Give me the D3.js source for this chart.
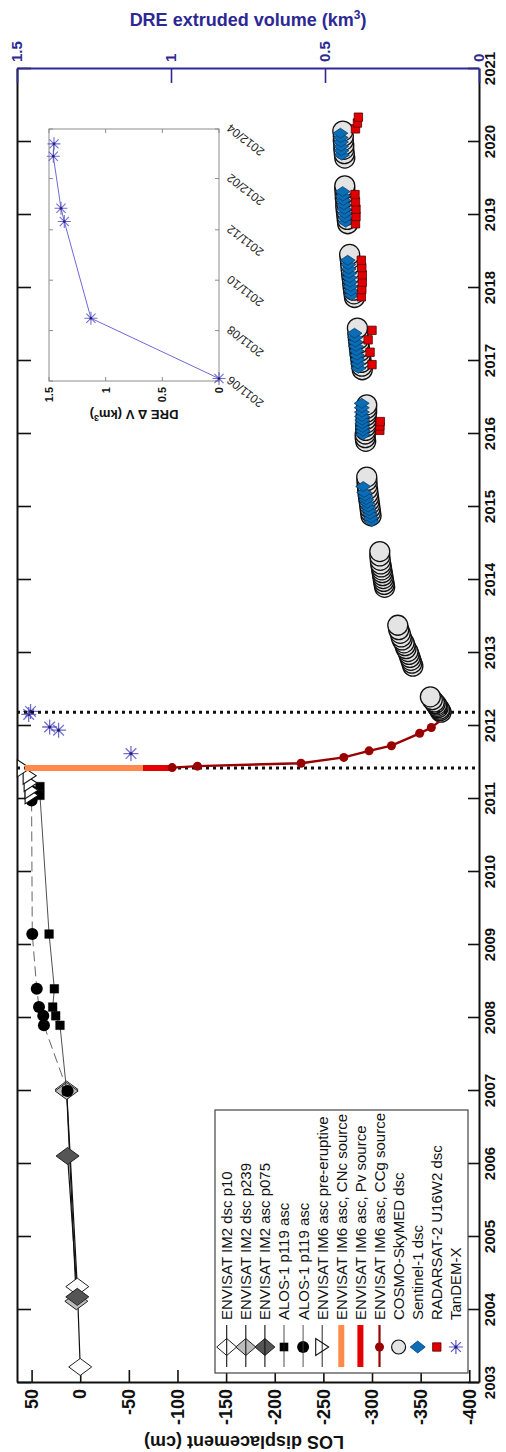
<!DOCTYPE html>
<html>
<head>
<meta charset="utf-8">
<script src="https://cdn.jsdelivr.net/npm/d3@7/dist/d3.min.js"></script>
<style>
  html, body { margin: 0; padding: 0; background: #fff; }
  svg { display: block; font-family: "Liberation Sans", Arial, Helvetica, sans-serif; }
</style>
</head>
<body>
<svg id="chart" width="506" height="1452"></svg>
<script>
// ---------------- data ----------------
const yearTicks = [2003, 2004, 2005, 2006, 2007, 2008, 2009, 2010, 2011, 2012,
                   2013, 2014, 2015, 2016, 2017, 2018, 2019, 2020, 2021];
const losTicks = [50, 0, -50, -100, -150, -200, -250, -300, -350, -400];
const dreTicks = [0, 0.5, 1, 1.5];
const insetMonthTicks = ["2011-06-01", "2011-08-01", "2011-10-01", "2011-12-01", "2012-02-01", "2012-04-01"];
const insetMonthLabels = ["2011/06", "2011/08", "2011/10", "2011/12", "2012/02", "2012/04"];

const legendLabels = [
  "ENVISAT IM2 dsc p10", "ENVISAT IM2 dsc p239", "ENVISAT IM2 asc p075",
  "ALOS-1 p119 asc", "ALOS-1 p119 asc", "ENVISAT IM6 asc pre-eruptive",
  "ENVISAT IM6 asc, CNc source", "ENVISAT IM6 asc, Pv source", "ENVISAT IM6 asc, CCg source",
  "COSMO-SkyMED dsc", "Sentinel-1 dsc", "RADARSAT-2 U16W2 dsc", "TanDEM-X"
];

// [decimal year, LOS displacement (cm)]
const envisatP10 = [[2003.22, 0], [2004.32, 3], [2007.02, 14]];
const envisatP239 = [[2004.12, 4], [2007.0, 14]];
const envisatP075 = [[2004.18, 3], [2006.11, 13]];
const alosSquares = [[2007.0, 14], [2007.9, 20.8], [2008.03, 25.2], [2008.15, 28.3], [2008.4, 26.6],
                     [2009.15, 32], [2011.05, 41.4], [2011.17, 41.4]];
const alosCircles = [[2007.0, 13], [2007.9, 37.3], [2008.03, 38], [2008.15, 42.4], [2008.4, 44.7],
                     [2009.15, 49.3], [2010.98, 50], [2011.1, 49]];
const im6PreEruptive = [[2011.05, 50], [2011.12, 50], [2011.22, 51], [2011.32, 52], [2011.42, 58]];
const cncSource = [[2011.425, 57], [2011.425, -64.5]];
const pvSource = [[2011.425, -64.5], [2011.425, -94.5]];
const ccgSource = [[2011.43, -94.5], [2011.45, -120.5], [2011.49, -227], [2011.57, -271], [2011.66, -297],
                   [2011.73, -320], [2011.9, -349], [2011.98, -361], [2012.06, -369]];

const cosmoSkyMed = [
  [2012.19, -371], [2012.21, -370], [2012.23, -369.5], [2012.25, -368], [2012.27, -367], [2012.29, -366.5],
  [2012.31, -365], [2012.33, -364], [2012.36, -362], [2012.4, -360],
  [2012.82, -342], [2012.86, -341], [2012.9, -340], [2012.94, -339], [2012.98, -338], [2013.02, -337],
  [2013.06, -335], [2013.1, -334], [2013.14, -333], [2013.18, -331], [2013.22, -330], [2013.27, -329],
  [2013.32, -327.5], [2013.38, -326.5],
  [2013.9, -313], [2013.94, -312.5], [2013.98, -312], [2014.02, -311.5], [2014.06, -311], [2014.1, -310.5],
  [2014.14, -310], [2014.18, -309.5], [2014.22, -309], [2014.27, -308.5], [2014.33, -308], [2014.39, -308],
  [2014.88, -299], [2014.93, -298.5], [2014.98, -298], [2015.03, -297.5], [2015.08, -297], [2015.13, -296.5],
  [2015.18, -296], [2015.24, -295.5], [2015.3, -295], [2015.36, -294.8], [2015.41, -294.6],
  [2015.9, -293.5], [2015.95, -293], [2016.0, -293], [2016.05, -293.5], [2016.1, -293.5], [2016.15, -294],
  [2016.2, -294], [2016.25, -294], [2016.3, -294.5], [2016.35, -294.5], [2016.4, -294.6],
  [2016.88, -290], [2016.93, -289.5], [2016.98, -289], [2017.03, -288.5], [2017.08, -288], [2017.13, -287.5],
  [2017.18, -287], [2017.24, -286.5], [2017.3, -286], [2017.37, -285.5], [2017.45, -285],
  [2017.87, -282], [2017.92, -281.5], [2017.97, -281], [2018.02, -280.5], [2018.08, -280], [2018.14, -279.5],
  [2018.2, -279], [2018.26, -278.5], [2018.33, -278], [2018.4, -277.5], [2018.46, -277],
  [2018.88, -275], [2018.94, -274.5], [2019.0, -274], [2019.06, -273.5], [2019.12, -273], [2019.18, -273],
  [2019.24, -272.5], [2019.3, -272.3], [2019.36, -272], [2019.4, -272],
  [2019.78, -272], [2019.84, -271.5], [2019.9, -271], [2019.96, -271], [2020.02, -270.5], [2020.08, -270.5],
  [2020.15, -270]
];

const sentinel1 = [
  [2014.8, -299.7], [2014.85, -299], [2014.9, -298], [2014.95, -297], [2015.0, -296], [2015.05, -295],
  [2015.1, -294], [2015.15, -293], [2015.2, -292], [2015.28, -291],
  [2015.99, -290.7], [2016.04, -290.5], [2016.09, -290.3], [2016.14, -290], [2016.19, -290], [2016.24, -289.8],
  [2016.3, -289.6], [2016.36, -289.5], [2016.42, -289.4],
  [2016.9, -286], [2016.96, -285.5], [2017.02, -285], [2017.08, -284.5], [2017.14, -284], [2017.2, -283.5],
  [2017.26, -283], [2017.32, -282.5], [2017.38, -282],
  [2017.9, -279], [2017.96, -278.5], [2018.02, -278], [2018.08, -277.5], [2018.14, -277], [2018.2, -276.5],
  [2018.26, -276], [2018.32, -275.5], [2018.38, -275],
  [2018.9, -273], [2018.96, -272.5], [2019.02, -272], [2019.08, -271.5], [2019.14, -271], [2019.2, -270.5],
  [2019.26, -270], [2019.32, -269.8],
  [2019.82, -269], [2019.88, -268.5], [2019.94, -268.2], [2020.0, -268], [2020.06, -267.8], [2020.12, -267.5]
];

const radarsat2 = [
  [2016.05, -308], [2016.11, -308], [2016.17, -308.5],
  [2016.95, -300], [2017.12, -298], [2017.29, -296], [2017.42, -300],
  [2017.88, -289], [2017.98, -289.5], [2018.08, -290], [2018.18, -290], [2018.28, -289.5], [2018.38, -289],
  [2018.88, -283], [2018.98, -283.5], [2019.08, -283.5], [2019.18, -283], [2019.28, -282.5],
  [2020.18, -283], [2020.26, -285], [2020.34, -286]
];

// TanDEM-X DRE extruded volume [date, km^3]
const tandemX = [["2011-06-04", 0], ["2011-08-16", 1.13], ["2011-12-11", 1.365],
                 ["2011-12-27", 1.394], ["2012-02-28", 1.462], ["2012-03-14", 1.456]];

// Eruption onset and end of the volume time series (decimal years)
const markerDates = [2011.425, 2012.19];

// ---------------- helpers ----------------
const utc = s => new Date(s + "T00:00:00Z");
function decimalYear(s) {
  const d = utc(s), yr = d.getUTCFullYear();
  const a = Date.UTC(yr, 0, 1), b = Date.UTC(yr + 1, 0, 1);
  return yr + (d - a) / (b - a);
}
const diamondPath = (hx, hy) => `M0,${-hy}L${hx},0L0,${hy}L${-hx},0Z`;
const squarePath = s => `M${-s},${-s}h${2 * s}v${2 * s}h${-2 * s}Z`;
const triDownPath = (hx, hy) => `M${-hx},${-hy}L${hx},${-hy}L0,${hy}Z`;
function starPath(r) {
  const a = r * 0.7071;
  return `M${-r},0L${r},0M0,${-r}L0,${r}M${-a},${-a}L${a},${a}M${-a},${a}L${a},${-a}`;
}

// ---------------- frame ----------------
// The figure is laid out landscape (1452 x 506) and turned onto the portrait page.
const FW = 1452;
const svg = d3.select("#chart");
const g = svg.append("g").attr("transform", `translate(0,${FW}) rotate(-90)`);

const pL = 69, pR = 1383, pT = 17, pB = 479;
const x = d3.scaleLinear().domain([2003, 2021]).range([pL, pR]);
const y = d3.scaleLinear().domain([65, -410]).range([pT, pB]);
const yV = d3.scaleLinear().domain([1.5, 0]).range([pT, pB]);

const BLUE = "#2c2894";
const FONT = "Liberation Sans, Arial, sans-serif";

// ---------------- axes ----------------
const axTop = g.append("g").attr("transform", `translate(0,${pT})`)
  .call(d3.axisTop(x).tickValues(yearTicks).tickSize(-14).tickSizeOuter(0).tickFormat(""));
const axBottom = g.append("g").attr("transform", `translate(0,${pB})`)
  .call(d3.axisBottom(x).tickValues(yearTicks).tickSize(-11).tickSizeOuter(0).tickPadding(5)
    .tickFormat(d3.format("d")));
const axLeft = g.append("g").attr("transform", `translate(${pL},0)`)
  .call(d3.axisLeft(y).tickValues(losTicks).tickSize(-13).tickSizeOuter(0).tickPadding(6)
    .tickFormat(d => String(d)));
const axRight = g.append("g").attr("transform", `translate(${pR},0)`)
  .call(d3.axisRight(yV).tickValues(dreTicks).tickSize(-14).tickSizeOuter(0).tickPadding(7)
    .tickFormat(d => String(d)));

[axTop, axBottom, axLeft].forEach(a => {
  a.select(".domain").attr("stroke", "#111").attr("stroke-width", 2);
  a.selectAll(".tick line").attr("stroke", "#111").attr("stroke-width", 1.6);
});
axRight.select(".domain").attr("stroke", BLUE).attr("stroke-width", 2);
axRight.selectAll(".tick line").attr("stroke", BLUE).attr("stroke-width", 1.6);

axBottom.selectAll("text").attr("font-size", 15).attr("font-weight", "bold").attr("fill", "#111")
  .attr("font-family", FONT);
axLeft.selectAll("text").attr("font-size", 18).attr("font-weight", "bold").attr("fill", "#111")
  .attr("font-family", FONT);
axRight.selectAll("text").attr("font-size", 15).attr("font-weight", "bold").attr("fill", BLUE)
  .attr("font-family", FONT);

// axis titles
g.append("text")
  .attr("transform", `translate(16,${(pT + pB) / 2 - 4}) rotate(-90)`)
  .attr("text-anchor", "middle").attr("font-size", 18).attr("font-weight", "bold").attr("fill", "#111")
  .text("LOS displacement (cm)");
const dreTitle = g.append("text")
  .attr("transform", `translate(1426,${(pT + pB) / 2}) rotate(90)`)
  .attr("text-anchor", "middle").attr("font-size", 18).attr("font-weight", "bold").attr("fill", BLUE);
dreTitle.append("tspan").text("DRE extruded volume (km");
dreTitle.append("tspan").attr("font-size", 12).attr("dy", -7).text("3");
dreTitle.append("tspan").attr("dy", 7).text(")");

// ---------------- series ----------------
const line = d3.line().x(d => x(d[0])).y(d => y(d[1]));
const plot = g.append("g");

function drawLine(data, stroke, width, dash) {
  plot.append("path").datum(data).attr("d", line).attr("fill", "none")
    .attr("stroke", stroke).attr("stroke-width", width).attr("stroke-dasharray", dash || null);
}
function drawMarks(data, pathStr, fill, stroke, sw) {
  plot.append("g").selectAll("path").data(data).join("path")
    .attr("transform", d => `translate(${x(d[0])},${y(d[1])})`)
    .attr("d", pathStr).attr("fill", fill).attr("stroke", stroke).attr("stroke-width", sw);
}

// ENVISAT IM2
drawLine(envisatP10, "#111", 1.2);
drawLine(envisatP239, "#111", 1.2);
drawLine(envisatP075, "#111", 1.2);
drawMarks(envisatP10, diamondPath(8.5, 11.5), "#fbfbfb", "#222", 1);
drawMarks(envisatP239, diamondPath(8.5, 11.5), "#bcbcbc", "#222", 1);
drawMarks(envisatP075, diamondPath(8.5, 11.5), "#555", "#222", 1);

// ALOS-1
drawLine(alosSquares, "#222", 0.8);
drawLine(alosCircles, "#555", 0.9, "10,5");
drawMarks(alosSquares, squarePath(4.3), "#000", "#000", 0.5);
plot.append("g").selectAll("circle").data(alosCircles).join("circle")
  .attr("cx", d => x(d[0])).attr("cy", d => y(d[1])).attr("r", 6).attr("fill", "#000");

// ENVISAT IM6 pre-eruptive
drawLine(im6PreEruptive, "#111", 0.9);
drawMarks(im6PreEruptive, triDownPath(8.5, 6.5), "#fff", "#111", 1.1);

// COSMO-SkyMED, Sentinel-1, RADARSAT-2
plot.append("g").selectAll("circle").data(cosmoSkyMed).join("circle")
  .attr("cx", d => x(d[0])).attr("cy", d => y(d[1])).attr("r", 10)
  .attr("fill", "#e4e4e4").attr("stroke", "#111").attr("stroke-width", 1.3);
drawMarks(sentinel1, diamondPath(5, 7.5), "#0a6db5", "#073f6e", 0.8);
drawMarks(radarsat2, squarePath(4.2), "#e00000", "#5a0000", 0.8);

// TanDEM-X in the main frame (right-hand volume axis); the zero-volume
// starting point sits on the frame and is shown only in the inset
const tdxMain = tandemX.filter(d => d[1] > 0).map(d => [decimalYear(d[0]), d[1]]);
const starG = plot.append("g").selectAll("g").data(tdxMain).join("g")
  .attr("transform", d => `translate(${x(d[0])},${yV(d[1])})`);
starG.append("path").attr("d", starPath(7.5)).attr("stroke", "#5a55c6").attr("stroke-width", 1.3)
  .attr("fill", "none").attr("opacity", 0.85);
starG.append("circle").attr("r", 1.6).attr("fill", "#22207a");

// eruption onset / end markers
plot.append("g").selectAll("line").data(markerDates).join("line")
  .attr("x1", d => x(d)).attr("x2", d => x(d)).attr("y1", pT).attr("y2", pB)
  .attr("stroke", "#111").attr("stroke-width", 3).attr("stroke-dasharray", "3,4");

// co-eruptive offsets and CCg source
drawLine(cncSource, "#ff8a4c", 6);
drawLine(pvSource, "#e40000", 6);
drawLine(ccgSource, "#990000", 2.4);
plot.append("g").selectAll("circle").data(ccgSource.slice(0, -1)).join("circle")
  .attr("cx", d => x(d[0])).attr("cy", d => y(d[1])).attr("r", 4.5).attr("fill", "#990000");

// ---------------- inset ----------------
const inL = 1071, inR = 1323, inT = 49, inB = 219;
const ix = d3.scaleUtc().domain([utc("2011-06-01"), utc("2012-04-01")]).range([inL, inR]);
const iy = d3.scaleLinear().domain([0, 1.5]).range([inB, inT]);
const inset = g.append("g");
inset.append("rect").attr("x", inL).attr("y", inT).attr("width", inR - inL).attr("height", inB - inT)
  .attr("fill", "#fff").attr("stroke", "#8c8c8c").attr("stroke-width", 1);
const monthDates = insetMonthTicks.map(utc);
inset.append("g").selectAll("path").data(monthDates).join("path")
  .attr("d", d => `M${ix(d)},${inB}v-4M${ix(d)},${inT}v4`).attr("stroke", "#8c8c8c");
inset.append("g").selectAll("path").data(dreTicks).join("path")
  .attr("d", d => `M${inL},${iy(d)}h4M${inR},${iy(d)}h-4`).attr("stroke", "#8c8c8c");
inset.append("g").selectAll("text").data(monthDates).join("text")
  .attr("transform", d => `translate(${ix(d) + 3},${inB + 10}) rotate(-52)`)
  .attr("text-anchor", "end").attr("dominant-baseline", "middle")
  .attr("font-size", 12).attr("fill", "#222")
  .text((d, i) => insetMonthLabels[i]);
inset.append("g").selectAll("text").data(dreTicks).join("text")
  .attr("x", inL - 6).attr("y", d => iy(d)).attr("dy", "0.35em")
  .attr("text-anchor", "end").attr("font-size", 11).attr("font-weight", "bold").attr("fill", "#111")
  .text(d => String(d));
const insetTitle = inset.append("text")
  .attr("transform", `translate(1042,${(inT + inB) / 2}) rotate(-90)`)
  .attr("text-anchor", "middle").attr("font-size", 13).attr("font-weight", "bold").attr("fill", "#111");
insetTitle.append("tspan").text("DRE \u0394 V (km");
insetTitle.append("tspan").attr("font-size", 9).attr("dy", -5).text("3");
insetTitle.append("tspan").attr("dy", 5).text(")");

const iline = d3.line().x(d => ix(utc(d[0]))).y(d => iy(d[1]));
inset.append("path").datum(tandemX).attr("d", iline).attr("fill", "none")
  .attr("stroke", "#6d6ad6").attr("stroke-width", 1);
const iStar = inset.append("g").selectAll("g").data(tandemX).join("g")
  .attr("transform", d => `translate(${ix(utc(d[0]))},${iy(d[1])})`);
iStar.append("path").attr("d", starPath(6.5)).attr("stroke", "#5a55c6").attr("stroke-width", 1.1)
  .attr("fill", "none").attr("opacity", 0.85);
iStar.append("circle").attr("r", 1.3).attr("fill", "#22207a");

// ---------------- legend ----------------
const lgL = 79, lgR = 342, lgT = 215, lgB = 468;
const legend = g.append("g");
legend.append("rect").attr("x", lgL).attr("y", lgT).attr("width", lgR - lgL).attr("height", lgB - lgT)
  .attr("fill", "#fff").attr("stroke", "#444").attr("stroke-width", 1.2);
const rowY = i => 226.7 + i * 19.1;
const mx = 105, lx1 = 85, lx2 = 127;
legendLabels.forEach((label, i) => {
  const ry = rowY(i);
  const row = legend.append("g").attr("transform", `translate(0,${ry})`);
  row.append("text").attr("x", 132).attr("y", 0).attr("dy", "0.36em")
    .attr("font-size", 15).attr("fill", "#111").text(label);
  const seg = (stroke, w, dash) => row.append("line").attr("x1", lx1).attr("x2", lx2).attr("y1", 0).attr("y2", 0)
    .attr("stroke", stroke).attr("stroke-width", w).attr("stroke-dasharray", dash || null);
  const mk = row.append("g").attr("transform", `translate(${mx},0)`);
  if (i <= 2) {
    seg("#111", 1.1);
    mk.append("path").attr("d", diamondPath(8.5, 10)).attr("stroke", "#222")
      .attr("fill", ["#fbfbfb", "#bcbcbc", "#555"][i]);
  } else if (i === 3) {
    seg("#222", 0.8);
    mk.append("path").attr("d", squarePath(4.3)).attr("fill", "#000");
  } else if (i === 4) {
    seg("#444", 0.9);
    mk.append("circle").attr("r", 6).attr("fill", "#000");
  } else if (i === 5) {
    seg("#111", 0.9);
    mk.append("path").attr("d", triDownPath(8.5, 6.5)).attr("fill", "#fff").attr("stroke", "#111").attr("stroke-width", 1.1);
  } else if (i === 6) {
    seg("#ff8a4c", 6);
  } else if (i === 7) {
    seg("#e40000", 6);
  } else if (i === 8) {
    seg("#990000", 2.2);
    mk.append("circle").attr("r", 4.5).attr("fill", "#990000");
  } else if (i === 9) {
    mk.append("circle").attr("r", 7).attr("fill", "#e4e4e4").attr("stroke", "#111").attr("stroke-width", 1.2);
  } else if (i === 10) {
    mk.append("path").attr("d", diamondPath(6, 7.5)).attr("fill", "#0a6db5").attr("stroke", "#073f6e").attr("stroke-width", 0.8);
  } else if (i === 11) {
    mk.append("path").attr("d", squarePath(4.2)).attr("fill", "#e00000").attr("stroke", "#5a0000").attr("stroke-width", 0.8);
  } else {
    mk.append("path").attr("d", starPath(7)).attr("stroke", "#5a55c6").attr("stroke-width", 1.2).attr("fill", "none");
    mk.append("circle").attr("r", 1.5).attr("fill", "#22207a");
  }
});
</script>
</body>
</html>
